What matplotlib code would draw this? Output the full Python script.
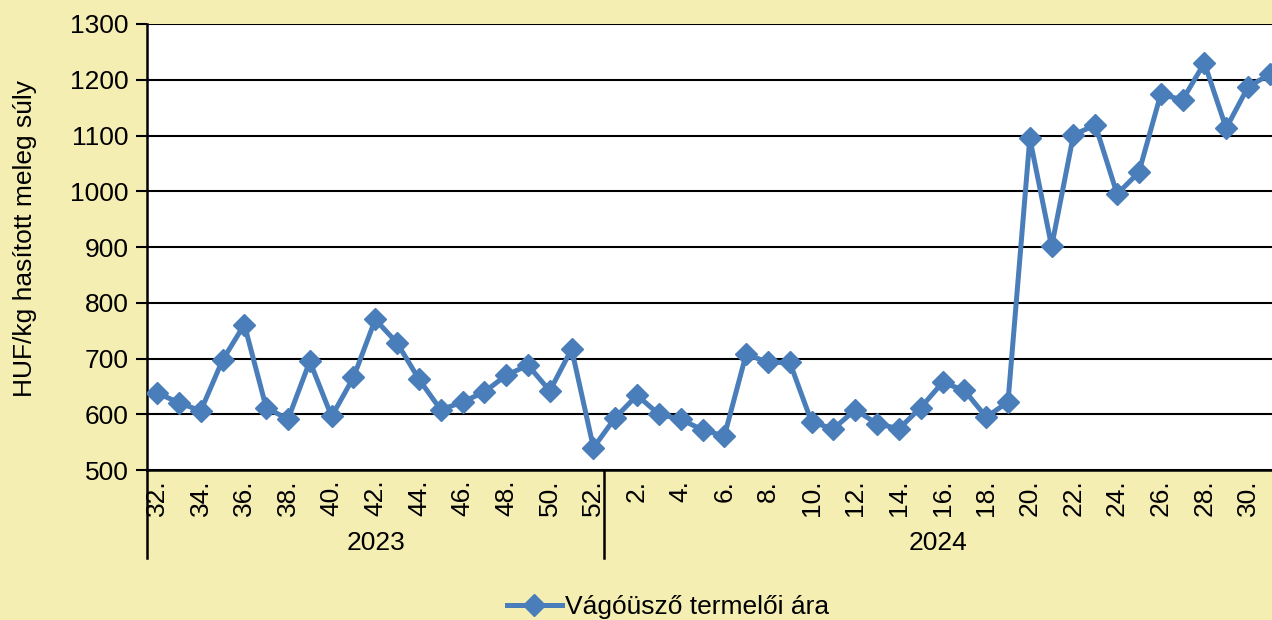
import matplotlib.pyplot as plt
import matplotlib.transforms as mtransforms

# ----------------------------------------------------
# Data: weekly producer price of slaughter piglets
# ----------------------------------------------------
weeks_2023 = list(range(32, 53))
weeks_2024 = list(range(1, 32))
prices_2023 = [638, 621, 606, 697, 761, 612, 591, 695, 596, 666, 770,
               728, 663, 608, 622, 640, 670, 688, 642, 717, 540]
prices_2024 = [594, 634, 600, 591, 572, 561, 708, 693, 693, 586, 574,
               608, 583, 574, 612, 657, 643, 595, 622, 1095, 901, 1101,
               1119, 995, 1034, 1174, 1164, 1230, 1113, 1187, 1210]
years = ["2023", "2024"]
series_label = "Vágóüsző termelői ára"
y_label = "HUF/kg hasított meleg súly"

bg = "#F5EEB2"
line_color = "#4A7EBB"
fs = 19

plt.rcParams['font.family'] = ['Liberation Sans', 'DejaVu Sans']

weeks = weeks_2023 + weeks_2024
prices = prices_2023 + prices_2024
x = list(range(len(weeks)))

fig = plt.figure(figsize=(12.72, 6.2), dpi=100, facecolor=bg)
ax = fig.add_axes([0.1156, 0.2419, 0.8844, 0.7194])
ax.set_facecolor("white")

ax.plot(x, prices, color=line_color, lw=3.6, marker="D", markersize=11,
        markeredgewidth=1, markeredgecolor=line_color, label=series_label,
        zorder=3)

ax.set_ylim(500, 1300)
ax.set_yticks(range(500, 1301, 100))
ax.set_xlim(-0.46, len(weeks) - 1 + 0.1)
ax.grid(axis="y", color="black", lw=1.5)
ax.set_axisbelow(True)

# every other week gets a label
tick_pos = [i for i, w in enumerate(weeks) if w % 2 == 0]
ax.set_xticks(tick_pos)
ax.set_xticklabels([f"{weeks[i]}." for i in tick_pos], rotation=90,
                   fontsize=fs, va="top")
ax.tick_params(axis="x", length=0, pad=7)
ax.tick_params(axis="y", length=8, width=1.5, labelsize=fs, pad=5)

for s in ["top", "right"]:
    ax.spines[s].set_visible(False)
for s in ["left", "bottom"]:
    ax.spines[s].set_linewidth(1.8)

ax.set_ylabel(y_label, fontsize=fs)
ax.yaxis.set_label_coords(-0.098, 0.518)

# year separators and year labels under the week labels
trans = mtransforms.blended_transform_factory(ax.transData, ax.transAxes)
n23 = len(weeks_2023)
sep = [-0.46, n23 - 0.5]
for xs in sep:
    ax.plot([xs, xs], [0, -0.197], color="black", lw=1.8, transform=trans,
            clip_on=False)
ax.text((sep[0] + sep[1]) / 2, -0.163, years[0], transform=trans,
        ha="center", va="center", fontsize=fs)
ax.text((sep[1] + len(weeks) - 1 + 0.1) / 2, -0.163, years[1],
        transform=trans, ha="center", va="center", fontsize=fs)

fig.legend(loc="center", bbox_to_anchor=(0.525, 0.021), frameon=False,
           fontsize=fs, handlelength=2.1, handletextpad=0.1)

fig.savefig("out.png", dpi=100, facecolor=bg)
